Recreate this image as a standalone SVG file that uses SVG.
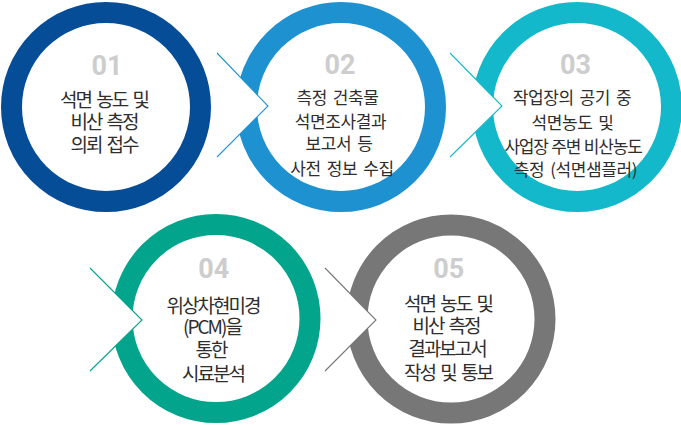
<svg xmlns="http://www.w3.org/2000/svg" width="681" height="425" viewBox="0 0 681 425">
<style>
.ring{fill:none;stroke-width:21}
.chev{fill:#fff;stroke:none}
.chl{fill:none;stroke-width:1.1}
.num{font-family:Roboto,"Liberation Sans",sans-serif;font-weight:700;font-size:27px;fill:#cdcdcd;text-anchor:middle}
.lbl{font-family:"Noto Sans CJK KR","Noto Sans",sans-serif;font-size:19px;fill:#2e2e2e;text-anchor:middle;letter-spacing:-2px;word-spacing:3px}
.lbs{font-family:"Noto Sans CJK KR","Noto Sans",sans-serif;font-size:17px;fill:#2e2e2e;text-anchor:middle;letter-spacing:-0.4px;word-spacing:2.5px}
</style>
<rect width="681" height="425" fill="#fff"/>
<g id="node1">
<circle class="ring" cx="106" cy="107" r="94.5" stroke="#064d98"/>
<text class="num" x="107" y="75">01</text>
<text class="lbl" x="104" y="107">석면 농도 및</text>
<text class="lbl" x="104" y="129">비산 측정</text>
<text class="lbl" x="104" y="151.5">의뢰 접수</text>
</g>
<g id="node2">
<circle class="ring" cx="341" cy="107" r="94.5" stroke="#1e92d0"/>
<text class="num" x="340" y="73.5">02</text>
<text class="lbs" x="337.5" y="103.5">측정 건축물</text>
<text class="lbs" x="340.5" y="127.5">석면조사결과</text>
<text class="lbs" x="339" y="150">보고서 등</text>
<text class="lbs" x="342" y="174.5">사전 정보 수집</text>
</g>
<g id="node3">
<circle class="ring" cx="577" cy="107" r="94.5" stroke="#13b9ca"/>
<text class="num" x="575.5" y="73.5">03</text>
<text class="lbs" x="572" y="103.5">작업장의 공기 중</text>
<text class="lbs" x="572.5" y="129">석면농도 및</text>
<text class="lbs" x="573" y="152.5" style="letter-spacing:-1.2px;word-spacing:1px">사업장 주변 비산농도</text>
<text class="lbs" x="575.5" y="176">측정 (석면샘플러)</text>
</g>
<g id="node4">
<circle class="ring" cx="216" cy="318.5" r="94" stroke="#03a48c"/>
<text class="num" x="213.7" y="278.3">04</text>
<text class="lbl" x="213" y="312.5">위상차현미경</text>
<text class="lbl" x="212" y="334">(PCM)을</text>
<text class="lbl" x="211" y="357">통한</text>
<text class="lbl" x="213" y="380.5">시료분석</text>
</g>
<g id="node5">
<circle class="ring" cx="451" cy="319" r="94" stroke="#777777"/>
<text class="num" x="448.7" y="278">05</text>
<text class="lbl" x="448" y="311">석면 농도 및</text>
<text class="lbl" x="446" y="332.5">비산 측정</text>
<text class="lbl" x="447" y="356">결과보고서</text>
<text class="lbl" x="448" y="380">작성 및 통보</text>
</g>
<g id="connectors">
<polygon class="chev" points="217,53 268,106 217,157"/>
<polyline class="chl" points="217,53 268,106 217,157" stroke="#1e92d0"/>
<polygon class="chev" points="450,53 502,106 450,157"/>
<polyline class="chl" points="450,53 502,106 450,157" stroke="#13b9ca"/>
<polygon class="chev" points="90,268 142,320 90,371"/>
<polyline class="chl" points="90,268 142,320 90,371" stroke="#03a48c"/>
<polygon class="chev" points="325,268 376,320 325,371"/>
<polyline class="chl" points="325,268 376,320 325,371" stroke="#777777"/>
</g>
</svg>
